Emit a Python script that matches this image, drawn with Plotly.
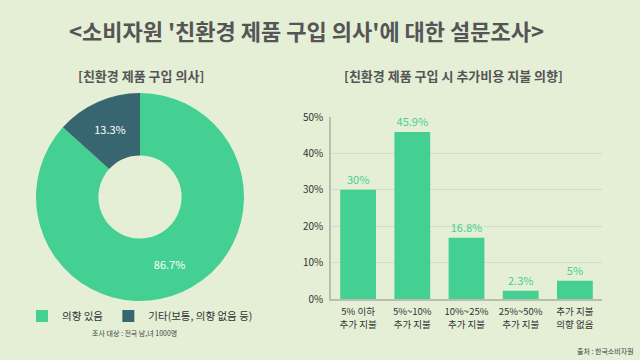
import plotly.graph_objects as go

W, H = 640, 360
FONT = "Noto Sans CJK KR"

pie_labels = ["의향 있음", "기타(보통, 의향 없음 등)"]
pie_values = [86.7, 13.3]
pie_colors = ["#44cf93", "#386670"]

bar_categories = ["5% 이하<br>추가 지불", "5%~10%<br>추가 지불", "10%~25%<br>추가 지불",
                  "25%~50%<br>추가 지불", "추가 지불<br>의향 없음"]
bar_values = [30, 45.9, 16.8, 2.3, 5]
bar_text = ["30%", "45.9%", "16.8%", "2.3%", "5%"]
y_ticks = [0, 10, 20, 30, 40, 50]
y_ticklabels = ["0%", "10%", "20%", "30%", "40%", "50%"]

def px_x(x):
    return x / W

def px_y(y):
    return 1 - y / H

fig = go.Figure()

fig.add_trace(go.Pie(
    labels=pie_labels, values=pie_values,
    marker=dict(colors=pie_colors, line=dict(width=0)),
    hole=0.4, sort=False, direction="clockwise", rotation=0,
    texttemplate="%{value}%",
    textposition="inside", insidetextorientation="horizontal",
    textfont=dict(family=FONT, size=11, color="white"),
    domain=dict(x=[px_x(36), px_x(244)], y=[px_y(301), px_y(93)]),
    showlegend=True,
))

fig.add_trace(go.Bar(
    x=bar_categories, y=bar_values, text=bar_text,
    textposition="outside", cliponaxis=False,
    textfont=dict(family=FONT, size=11, color="#44cf93"),
    marker=dict(color="#44cf93", line=dict(width=0)),
    width=0.66, showlegend=False,
))

fig.update_layout(
    width=W, height=H,
    margin=dict(l=0, r=0, t=0, b=0, pad=0, autoexpand=False),
    paper_bgcolor="#e4efd6", plot_bgcolor="#e4efd6",
    font=dict(family=FONT, color="#333"),
    xaxis=dict(domain=[px_x(331), px_x(602)], showgrid=False, automargin=False,
               showline=True, linecolor="#b8bfb0", linewidth=1.5,
               ticklabelstandoff=3,
               tickfont=dict(family=FONT, size=9.5, color="#333"), ticks=""),
    yaxis=dict(domain=[px_y(299), px_y(117)], range=[0, 50], automargin=False,
               tickvals=y_ticks, ticktext=y_ticklabels,
               showgrid=True, gridcolor="#d3dcc8", gridwidth=1,
               showline=True, linecolor="#b8bfb0", linewidth=1.5,
               zeroline=False, ticks="", ticklabelstandoff=4,
               tickfont=dict(family=FONT, size=10, color="#333")),
    legend=dict(orientation="h", x=px_x(140), xanchor="center",
                y=px_y(316), yanchor="middle",
                font=dict(family=FONT, size=10.5, color="#333"),
                itemwidth=30, tracegroupgap=0, bgcolor="rgba(0,0,0,0)"),
    annotations=[
        dict(text="<b><소비자원 '친환경 제품 구입 의사'에 대한 설문조사></b>",
             x=px_x(306), y=px_y(30), xref="paper", yref="paper",
             xanchor="center", yanchor="middle",
             showarrow=False, font=dict(family=FONT, size=22, color="#555")),
        dict(text="<b>[친환경 제품 구입 의사]</b>",
             x=px_x(141), y=px_y(75), xref="paper", yref="paper",
             xanchor="center", yanchor="middle",
             showarrow=False, font=dict(family=FONT, size=13, color="#555")),
        dict(text="<b>[친환경 제품 구입 시 추가비용 지불 의향]</b>",
             x=px_x(453), y=px_y(75), xref="paper", yref="paper",
             xanchor="center", yanchor="middle",
             showarrow=False, font=dict(family=FONT, size=13, color="#555")),
        dict(text="조사 대상 : 전국 남,녀 1000명",
             x=px_x(134), y=px_y(333), xref="paper", yref="paper",
             xanchor="center", yanchor="middle",
             showarrow=False, font=dict(family=FONT, size=7, color="#444")),
        dict(text="출처 : 한국소비자원",
             x=px_x(636), y=px_y(351), xref="paper", yref="paper",
             xanchor="right", yanchor="middle", showarrow=False,
             font=dict(family=FONT, size=7, color="#444")),
    ],
)

fig.write_html("out.html",
               config={"displayModeBar": False},
               post_script="document.body.style.margin='0';document.body.style.background='#e4efd6';")
